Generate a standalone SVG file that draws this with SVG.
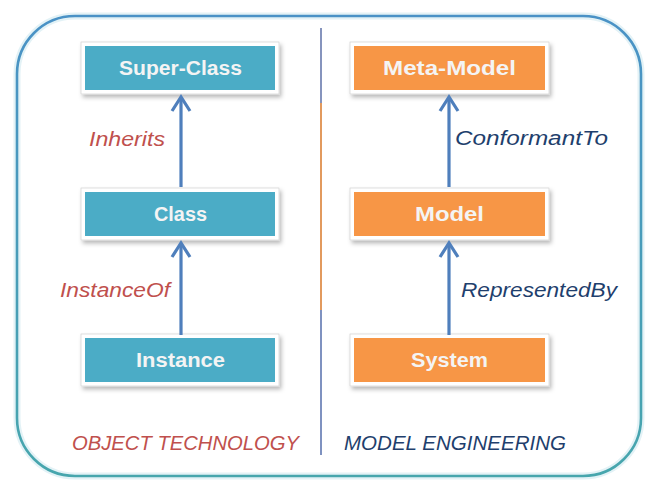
<svg xmlns="http://www.w3.org/2000/svg" width="646" height="480" viewBox="0 0 646 480">
  <defs>
    <linearGradient id="outerG" x1="0" y1="0" x2="0" y2="1">
      <stop offset="0" stop-color="#4a92c6"/>
      <stop offset="1" stop-color="#47a6ad"/>
    </linearGradient>
    <filter id="shadow" x="-10%" y="-20%" width="125%" height="150%">
      <feDropShadow dx="2" dy="3" stdDeviation="2" flood-color="#000" flood-opacity="0.28"/>
    </filter>
  </defs>
  <style>
    .frame { fill: #ffffff; stroke: #d6d6d6; stroke-width: 0.8; filter: url(#shadow); }
    .teal { fill: #4bacc6; }
    .orange { fill: #f79646; }
    .boxtxt { font-family: "Liberation Sans", Arial, sans-serif; font-weight: bold; font-size: 20px; fill: #f4f4f4; }
    .lbl { font-family: "Liberation Sans", Arial, sans-serif; font-style: italic; font-size: 20px; }
    .red { fill: #c0504d; }
    .navy { fill: #1f3f6d; }
    .conn line, .conn path { stroke: #4f7fbc; stroke-width: 3.2; fill: none; }
    .div { stroke-width: 2; }
  </style>

  <rect width="646" height="480" fill="#ffffff"/>

  <!-- outer container -->
  <rect x="17" y="16" width="624" height="460" rx="58" ry="58" fill="none" stroke="#e3f2f6" stroke-width="7"/>
  <rect x="17" y="16" width="624" height="460" rx="58" ry="58" fill="none" stroke="url(#outerG)" stroke-width="2.6"/>

  <!-- divider -->
  <line class="div" x1="321" y1="28" x2="321" y2="103" stroke="#8694bd"/>
  <line class="div" x1="321" y1="103" x2="321" y2="310" stroke="#e29a5e"/>
  <line class="div" x1="321" y1="310" x2="321" y2="455" stroke="#7f92c0"/>

  <!-- nodes -->
  <g id="super-class">
    <rect class="frame" x="81" y="42" width="198" height="52"/>
    <rect class="teal" x="85" y="46" width="190" height="44"/>
    <text class="boxtxt" x="119" y="75" textLength="123" lengthAdjust="spacingAndGlyphs">Super-Class</text>
  </g>
  <g id="class">
    <rect class="frame" x="81" y="188" width="198" height="52"/>
    <rect class="teal" x="85" y="192" width="190" height="44"/>
    <text class="boxtxt" x="154" y="221" textLength="53" lengthAdjust="spacingAndGlyphs">Class</text>
  </g>
  <g id="instance">
    <rect class="frame" x="81" y="334" width="198" height="52"/>
    <rect class="teal" x="85" y="338" width="190" height="44"/>
    <text class="boxtxt" x="136" y="367" textLength="89" lengthAdjust="spacingAndGlyphs">Instance</text>
  </g>
  <g id="meta-model">
    <rect class="frame" x="350" y="42" width="199" height="52"/>
    <rect class="orange" x="354" y="46" width="191" height="44"/>
    <text class="boxtxt" x="383" y="75" textLength="133" lengthAdjust="spacingAndGlyphs">Meta-Model</text>
  </g>
  <g id="model">
    <rect class="frame" x="350" y="188" width="199" height="52"/>
    <rect class="orange" x="354" y="192" width="191" height="44"/>
    <text class="boxtxt" x="415" y="221" textLength="69" lengthAdjust="spacingAndGlyphs">Model</text>
  </g>
  <g id="system">
    <rect class="frame" x="350" y="334" width="199" height="52"/>
    <rect class="orange" x="354" y="338" width="191" height="44"/>
    <text class="boxtxt" x="411" y="367" textLength="77" lengthAdjust="spacingAndGlyphs">System</text>
  </g>

  <!-- connectors -->
  <g id="connectors" class="conn">
    <line x1="181" y1="187" x2="181" y2="97"/>
    <path d="M172,111 L181,97 L190,111"/>
    <line x1="181" y1="335" x2="181" y2="243"/>
    <path d="M172,257 L181,243 L190,257"/>
    <line x1="449" y1="187" x2="449" y2="97"/>
    <path d="M440,111 L449,97 L458,111"/>
    <line x1="449" y1="335" x2="449" y2="243"/>
    <path d="M440,257 L449,243 L458,257"/>
  </g>

  <!-- connector labels -->
  <text class="lbl red" x="89" y="146" textLength="76" lengthAdjust="spacingAndGlyphs">Inherits</text>
  <text class="lbl red" x="60" y="297" textLength="110" lengthAdjust="spacingAndGlyphs">InstanceOf</text>
  <text class="lbl navy" x="455" y="145" textLength="153" lengthAdjust="spacingAndGlyphs">ConformantTo</text>
  <text class="lbl navy" x="461" y="297" textLength="156" lengthAdjust="spacingAndGlyphs">RepresentedBy</text>

  <!-- section captions -->
  <text class="lbl red" x="72" y="450" textLength="227" lengthAdjust="spacingAndGlyphs">OBJECT TECHNOLOGY</text>
  <text class="lbl navy" x="344" y="450" textLength="222" lengthAdjust="spacingAndGlyphs">MODEL ENGINEERING</text>
</svg>
